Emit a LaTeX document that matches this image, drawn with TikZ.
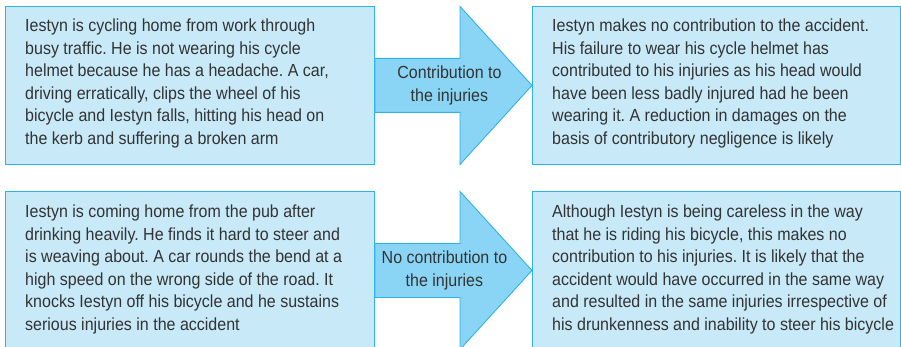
\documentclass[tikz,border=0pt]{standalone}
\usepackage{fontspec}
\setmainfont{Liberation Sans}[FakeStretch=0.915]
\usetikzlibrary{calc}
\definecolor{boxfill}{HTML}{C7E9F8}
\definecolor{boxline}{HTML}{2DB3EC}
\definecolor{arrowfill}{HTML}{8AD5F5}
\definecolor{txt}{HTML}{333333}
\tikzset{
  casebox/.style={draw=boxline, fill=boxfill, line width=0.9pt, anchor=north west,
    minimum height=158pt, minimum width=369pt},
  casetext/.style={anchor=west, inner sep=0pt, align=left, text=txt,
    font=\fontsize{17.5}{22.6}\selectfont\frenchspacing},
  blockarrow/.style={draw=boxline, fill=arrowfill, line width=0.9pt, line join=miter},
  arrowlabel/.style={text=txt, align=center, font=\fontsize{17.5}{23}\selectfont}
}

\begin{document}
\begin{tikzpicture}[x=1pt,y=-1pt]
    \useasboundingbox (0,0) rectangle (901,347);
    % top row
    \node [casebox] (case1) at (5,6) {};
    \node [casebox, minimum width=368pt] (result1) at (532,6) {};
    \node [casetext] (case1text) at ($(case1.west)+(20,-2)$) {Iestyn is cycling home from work through\\busy traffic. He is not wearing his cycle\\helmet because he has a headache. A car,\\driving erratically, clips the wheel of his\\bicycle and Iestyn falls, hitting his head on\\the kerb and suffering a broken arm};
    \node [casetext] (result1text) at ($(result1.west)+(20,-2)$) {Iestyn makes no contribution to the accident.\\His failure to wear his cycle helmet has\\contributed to his injuries as his head would\\have been less badly injured had he been\\wearing it. A reduction in damages on the\\basis of contributory negligence is likely};
    \draw [blockarrow] ($(case1.east)+(0,-27)$) -- ($(result1.west)+(-72,-27)$) -- ($(result1.west)+(-72,-79)$)
        -- (result1.west) -- ($(result1.west)+(-72,79)$) -- ($(result1.west)+(-72,27)$) -- ($(case1.east)+(0,27)$) -- cycle;
    \node [arrowlabel] (label1) at ($(case1.east)!0.5!(result1.west)+(-4,0)$) {Contribution to\\the injuries};

    % bottom row
    \node [casebox] (case2) at (5,191) {};
    \node [casebox, minimum width=368pt] (result2) at (532,191) {};
    \node [casetext] (case2text) at ($(case2.west)+(20,-1)$) {Iestyn is coming home from the pub after\\drinking heavily. He finds it hard to steer and\\is weaving about. A car rounds the bend at a\\high speed on the wrong side of the road. It\\knocks Iestyn off his bicycle and he sustains\\serious injuries in the accident};
    \node [casetext] (result2text) at ($(result2.west)+(20,-1)$) {Although Iestyn is being careless in the way\\that he is riding his bicycle, this makes no\\contribution to his injuries. It is likely that the\\accident would have occurred in the same way\\and resulted in the same injuries irrespective of\\his drunkenness and inability to steer his bicycle};
    \draw [blockarrow] ($(case2.east)+(0,-27)$) -- ($(result2.west)+(-72,-27)$) -- ($(result2.west)+(-72,-79)$)
        -- (result2.west) -- ($(result2.west)+(-72,79)$) -- ($(result2.west)+(-72,27)$) -- ($(case2.east)+(0,27)$) -- cycle;
    \node [arrowlabel] (label2) at ($(case2.east)!0.5!(result2.west)+(-9,0)$) {No contribution to\\the injuries};
\end{tikzpicture}
\end{document}
